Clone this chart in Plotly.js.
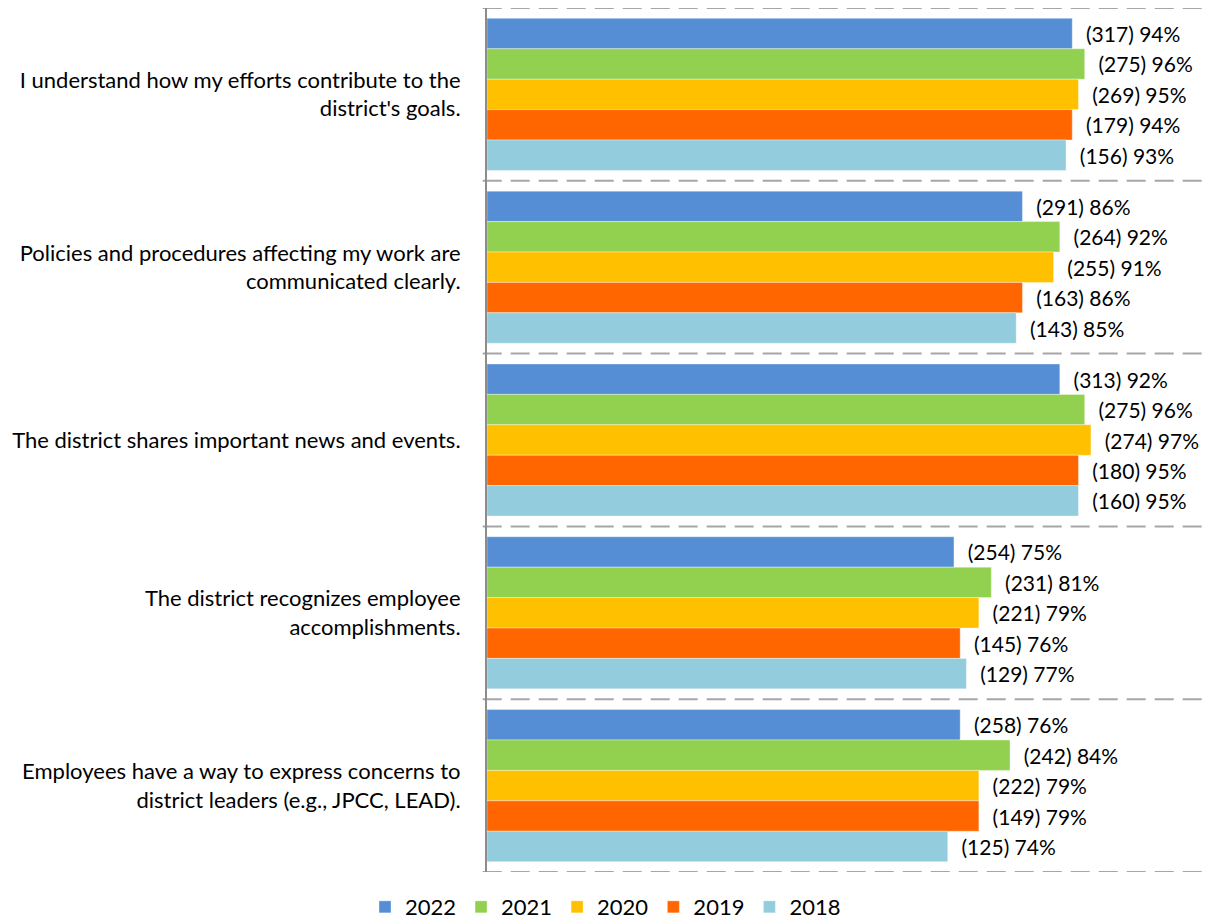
<!DOCTYPE html>
<html>
<head>
<meta charset="utf-8">
<script src="https://cdn.plot.ly/plotly-3.0.1.min.js"></script>
<style>
html,body{margin:0;padding:0;background:#fff;}
#chart{width:1211px;height:919px;}
</style>
</head>
<body>
<div id="chart"></div>
<script>
var categories = [
  "I understand how my efforts contribute to the<br>district's goals.",
  "Policies and procedures affecting my work are<br>communicated clearly.",
  "The district shares important news and events.",
  "The district recognizes employee<br>accomplishments.",
  "Employees have a way to express concerns to<br>district leaders (e.g., JPCC, LEAD)."
];
var years = ["2022", "2021", "2020", "2019", "2018"];
var colors = ["#558ED5", "#92D050", "#FFC000", "#FF6600", "#93CDDD"];

// percent values per year (same order as categories)
var pct2022 = [94, 86, 92, 75, 76];
var pct2021 = [96, 92, 96, 81, 84];
var pct2020 = [95, 91, 97, 79, 79];
var pct2019 = [94, 86, 95, 76, 79];
var pct2018 = [93, 85, 95, 77, 74];

// respondent counts per year
var n2022 = [317, 291, 313, 254, 258];
var n2021 = [275, 264, 275, 231, 242];
var n2020 = [269, 255, 274, 221, 222];
var n2019 = [179, 163, 180, 145, 149];
var n2018 = [156, 143, 160, 129, 125];

var pcts = [pct2022, pct2021, pct2020, pct2019, pct2018];
var counts = [n2022, n2021, n2020, n2019, n2018];

var FONT = "Lato, 'Open Sans', sans-serif";

var traces = years.map(function (yr, i) {
  return {
    type: "bar",
    orientation: "h",
    name: yr,
    y: categories,
    x: pcts[i].map(function (v) { return v / 100; }),
    text: pcts[i].map(function (v, j) {
      return "\u00a0\u00a0(" + counts[i][j] + ") " + v + "%";
    }),
    textposition: "outside",
    cliponaxis: false,
    constraintext: "none",
    textfont: { family: FONT, size: 21, color: "#000" },
    marker: { color: colors[i], line: { color: "rgba(255,255,255,0.35)", width: 1 } },
    hoverinfo: "skip"
  };
});

var shapes = [];
for (var k = 0; k <= categories.length; k++) {
  shapes.push({
    type: "line", xref: "paper", yref: "y",
    x0: -0.006, x1: 1, y0: k - 0.5, y1: k - 0.5,
    line: { color: "#A6A6A6", width: 2, dash: "19px,9px" },
    layer: "below"
  });
}

var layout = {
  width: 1211, height: 919,
  margin: { l: 487, r: 8, t: 8, b: 47 },
  paper_bgcolor: "#fff", plot_bgcolor: "#fff",
  barmode: "group",
  bargap: 0.12, bargroupgap: 0,
  showlegend: true,
  legend: {
    orientation: "h",
    xref: "container", x: 0.5, xanchor: "center",
    yref: "container", y: 0.013, yanchor: "middle",
    font: { family: FONT, size: 22, color: "#000" },
    traceorder: "normal",
    itemclick: false
  },
  xaxis: {
    range: [0, 1.15], showticklabels: false, showgrid: false,
    zeroline: false, showline: false, ticks: ""
  },
  yaxis: {
    type: "category",
    range: [4.5, -0.5],
    showline: true, linecolor: "#8C8C8C", linewidth: 2,
    showgrid: false, zeroline: false,
    ticks: "outside", ticklen: 20, tickcolor: "rgba(0,0,0,0)",
    tickfont: { family: FONT, size: 22, color: "#000" }
  },
  shapes: shapes,
  font: { family: FONT, color: "#000" }
};

Plotly.newPlot("chart", traces, layout, { displayModeBar: false, staticPlot: true });
</script>
</body>
</html>
